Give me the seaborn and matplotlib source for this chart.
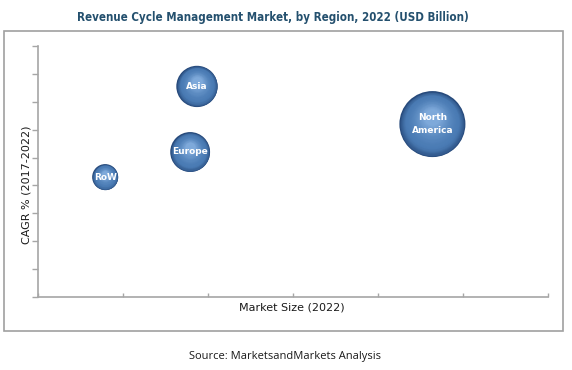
import numpy as np
import pandas as pd
import seaborn as sns
import matplotlib.pyplot as plt
import matplotlib.transforms as mtransforms
from matplotlib.colors import to_rgb
from matplotlib.patches import Rectangle

# ------------ Data ------------
regions = ["RoW", "Europe", "Asia", "North America"]
labels = ["RoW", "Europe", "Asia", "North\nAmerica"]
market_size = [0.79, 1.79, 1.87, 4.64]     # position on the (unlabelled) x axis
cagr = [4.3, 5.2, 7.55, 6.2]                # position on the (unlabelled) y axis
bubble = [1.7, 4.0, 4.3, 11.0]              # relative bubble value

df = pd.DataFrame({"region": regions, "label": labels, "x": market_size,
                   "y": cagr, "bubble": bubble})

sns.set_style("white")
plt.rcParams['font.family'] = ['DejaVu Sans']

fig = plt.figure(figsize=(5.72, 3.70), dpi=100)
ax = fig.add_axes([38 / 572, 1 - 297 / 370, 510 / 572, 251 / 370])

# base bubbles through seaborn's size mapping
SMIN, SMAX = 350, 2260
sns.scatterplot(data=df, x="x", y="y", size="bubble", sizes=(SMIN, SMAX), ax=ax,
                color="#26497a", linewidth=0, legend=False, zorder=2)

# shading: stacked, lighter, smaller discs shifted up a little
edge = np.array(to_rgb("#26497a"))
mid = np.array(to_rgb("#4a7bb4"))
light = np.array(to_rgb("#7ea9da"))
n_layers = 30
base_s = SMIN + (df["bubble"] - min(bubble)) / (max(bubble) - min(bubble)) * (SMAX - SMIN)
for i in range(1, n_layers):
    t = i / (n_layers - 1)
    f = 1 - 0.75 * t
    if t < 0.25:
        col = edge + (mid - edge) * (t / 0.25) ** 0.7
    else:
        col = mid + (light - mid) * ((t - 0.25) / 0.75) ** 1.6
    for j, row in df.iterrows():
        rad_pt = np.sqrt(base_s[j]) / 2
        shift = (1 - f) * 0.3 * rad_pt
        tr = mtransforms.offset_copy(ax.transData, fig=fig, x=0, y=shift, units="points")
        ax.scatter(row["x"], row["y"], s=base_s[j] * f ** 2, color=col, linewidths=0,
                   transform=tr, zorder=3 + i)

for _, row in df.iterrows():
    ax.text(row["x"], row["y"], row["label"], color="white", fontsize=6.5, fontweight="bold",
            ha="center", va="center", zorder=60, linespacing=1.5)

ax.set_xlim(0, 6)
ax.set_ylim(0, 9)
ax.set_xticks(np.arange(0, 7))
ax.set_yticks(np.arange(0, 10))
ax.set_xticklabels([])
ax.set_yticklabels([])
ax.tick_params(axis="x", direction="in", length=3, color="#a6a6a6", width=1, bottom=True)
ax.tick_params(axis="y", direction="out", length=4, color="#a6a6a6", width=1, left=True)
for side in ["top", "right"]:
    ax.spines[side].set_visible(False)
for side in ["left", "bottom"]:
    ax.spines[side].set_color("#a6a6a6")
    ax.spines[side].set_linewidth(1.2)
ax.set_xlabel("")
ax.set_ylabel("")

# outer frame
fig.patches.append(Rectangle((4 / 572, 1 - 331 / 370), 559 / 572, 300 / 370,
                             transform=fig.transFigure, fill=False,
                             edgecolor="#a0a0a0", linewidth=1.2))

fig.text(273 / 572, 1 - 17 / 370, "Revenue Cycle Management Market, by Region, 2022 (USD Billion)",
         ha="center", va="center", fontsize=8.3, fontweight="bold", color="#24506e",
         fontstretch="condensed", family=["DejaVu Sans"])
fig.text(27 / 572, 1 - 185 / 370, "CAGR % (2017-2022)", rotation=90, ha="center", va="center",
         fontsize=8, color="#1a1a1a")
fig.text(292 / 572, 1 - 308 / 370, "Market Size (2022)", ha="center", va="center",
         fontsize=8, color="#1a1a1a")
fig.text(285 / 572, 1 - 357 / 370, "Source: MarketsandMarkets Analysis", ha="center", va="center",
         fontsize=8, color="#1a1a1a", family=["Open Sans", "DejaVu Sans"])

fig.savefig("out.png", dpi=100)
